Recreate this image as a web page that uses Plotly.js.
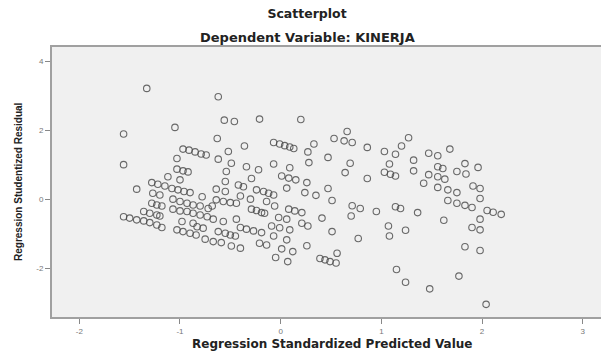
<!DOCTYPE html>
<html>
<head>
<meta charset="utf-8">
<script src="https://cdn.plot.ly/plotly-3.0.1.min.js"></script>
<style>html,body{margin:0;padding:0;background:#fff;}#chart{width:601px;height:352px;}</style>
</head>
<body>
<div id="chart"></div>
<script>
// Regression Standardized Predicted Value
var predicted = [
-1.56,-1.56,-1.33,-1.05,-1.03,-0.97,-0.91,-0.85,-0.79,-0.74,-0.62,-0.52,-0.49,-1.12,-1.03,-0.97,-0.92,-1.00,-0.54,-0.55,
-1.43,-1.28,-1.22,-1.15,-1.08,-1.02,-0.96,-0.90,-0.78,-0.64,-0.55,-0.42,-1.27,-1.20,-1.07,-1.00,-0.93,-0.87,-0.80,-0.72,
-0.64,-0.57,-0.50,-0.44,-1.28,-1.23,-1.18,-1.07,-1.00,-0.93,-0.87,-0.80,-0.73,-0.67,-1.36,-1.30,-1.23,-1.20,-0.57,-0.44,
-0.98,-0.87,-0.83,-0.77,-0.62,-0.55,-0.50,-0.45,-1.56,-1.50,-1.43,-1.36,-1.30,-1.23,-1.18,-1.03,-0.97,-0.90,-0.84,-0.75,
-0.67,-0.59,-0.49,-0.40,-0.68,
-0.62,-0.56,-0.46,-0.21,0.20,-0.63,-0.36,-0.07,-0.01,0.04,0.09,0.13,0.33,0.27,0.66,0.53,0.63,0.71,0.86,1.03,
1.14,0.47,0.69,1.08,0.28,-0.07,-0.34,-0.22,0.09,0.64,1.03,1.09,1.14,0.86,0.01,0.08,0.15,0.26,-0.29,-0.37,
0.47,0.06,0.24,0.35,0.51,0.71,0.79,0.70,-0.24,-0.17,-0.12,-0.07,-0.40,-0.30,-0.29,-0.24,-0.19,-0.16,-0.14,-0.06,
0.08,0.14,0.21,0.41,-0.02,0.06,0.21,0.27,-0.09,-0.01,0.09,0.51,-0.40,-0.34,-0.27,-0.19,-0.07,0.06,-0.21,-0.14,
0.26,0.77,0.01,0.12,0.56,-0.05,0.07,0.39,0.44,0.49,0.55,1.15,1.07,1.08,0.95,1.14,1.19,
1.27,1.20,1.68,1.47,1.56,1.32,1.83,1.96,1.56,1.61,1.32,1.75,1.84,1.47,1.56,1.63,1.42,1.56,1.66,1.75,
1.91,1.98,1.98,1.66,1.75,1.83,1.90,2.05,2.11,2.19,1.98,1.62,1.36,1.24,1.90,1.98,1.83,1.98,1.24,1.48,
1.77,2.04
];
// Regression Studentized Residual
var residual = [
1.90,1.01,3.22,2.09,1.19,1.46,1.43,1.38,1.32,1.29,1.17,1.39,1.05,0.66,0.88,0.83,0.80,0.57,0.81,0.52,
0.30,0.49,0.44,0.39,0.32,0.28,0.23,0.20,0.08,0.30,0.23,0.42,0.18,0.13,0.01,-0.06,-0.11,-0.16,-0.19,-0.26,
-0.01,-0.06,-0.09,-0.11,-0.11,-0.16,-0.19,-0.28,-0.33,-0.35,-0.40,-0.45,-0.50,-0.57,-0.35,-0.40,-0.45,-0.48,-0.64,-0.57,
-0.64,-0.69,-0.79,-0.83,-0.93,-0.98,-1.03,-1.06,-0.50,-0.54,-0.59,-0.62,-0.67,-0.74,-0.81,-0.88,-0.93,-0.98,-1.03,-1.15,
-1.22,-1.25,-1.35,-1.41,-0.19,
2.98,2.30,2.26,2.33,2.32,1.77,1.55,1.65,1.61,1.56,1.52,1.48,1.61,1.38,1.97,1.77,1.70,1.65,1.51,1.39,
1.31,1.22,1.05,1.03,1.07,1.03,0.95,0.86,0.92,0.78,0.79,0.73,0.68,0.61,0.68,0.62,0.57,0.49,0.61,0.37,
0.32,0.33,0.20,0.12,-0.03,-0.18,-0.26,-0.48,0.28,0.23,0.18,0.13,0.10,0.01,-0.28,-0.32,-0.38,-0.40,-0.06,-0.19,
-0.28,-0.33,-0.38,-0.54,-0.52,-0.57,-0.69,-0.77,-0.77,-0.82,-0.88,-0.93,-0.81,-0.86,-0.91,-0.96,-1.06,-1.17,-1.27,-1.32,
-1.34,-1.13,-1.43,-1.51,-1.56,-1.68,-1.80,-1.71,-1.75,-1.80,-1.84,-2.03,-0.77,-1.06,-0.35,-0.21,-0.26,
1.79,1.55,1.46,1.34,1.27,1.14,1.04,0.93,0.95,0.90,0.83,0.81,0.74,0.72,0.66,0.59,0.47,0.35,0.28,0.20,
0.39,0.32,0.03,-0.03,-0.11,-0.17,-0.23,-0.32,-0.37,-0.43,-0.57,-0.60,-0.38,-0.89,-0.81,-0.88,-1.37,-1.48,-2.40,-2.59,
-2.22,-3.04
];
var xTicks = [-2, -1, 0, 1, 2, 3];
var yTicks = [-2, 0, 2, 4];

var fontFam = 'Liberation Sans, Arial, sans-serif';
var wideFam = 'DejaVu Sans, Verdana, sans-serif';
var W = 549, H = 270, L = 52, T = 47;
function px(xp) { return (xp - L) / W; }
function py(yp) { return 1 - (yp - T) / H; }

var trace = {
  x: predicted, y: residual, type: 'scatter', mode: 'markers',
  marker: {symbol: 'circle-open', size: 6.5, color: 'rgba(70,70,70,0.8)', line: {width: 1.1, color: 'rgba(70,70,70,0.8)'}},
  hoverinfo: 'skip', showlegend: false
};
var layout = {
  width: 601, height: 352,
  margin: {l: L, r: 0, t: T, b: 35, pad: 0},
  paper_bgcolor: '#ffffff', plot_bgcolor: '#f0f0f0',
  font: {family: fontFam, color: '#222'},
  title: {text: '<b>Scatterplot</b>', font: {size: 12.5, family: wideFam, color: '#222'}, x: 307/601, xanchor: 'center', y: 1 - 14/352, yanchor: 'middle'},
  annotations: [
    {text: '<b>Dependent Variable: KINERJA</b>', xref: 'paper', yref: 'paper',
     x: px(307), y: py(37), xanchor: 'center', yanchor: 'middle',
     showarrow: false, font: {size: 13, family: wideFam, color: '#222'}},
    {text: '<b>Regression Standardized Predicted Value</b>', xref: 'paper', yref: 'paper',
     x: px(332), y: py(344), xanchor: 'center', yanchor: 'middle',
     showarrow: false, font: {size: 12, family: wideFam, color: '#222'}},
    {text: '<b>Regression Studentized Residual</b>', xref: 'paper', yref: 'paper',
     x: px(18), y: py(182), xanchor: 'center', yanchor: 'middle', textangle: -90,
     showarrow: false, font: {size: 10, family: fontFam, color: '#222'}}
  ],
  xaxis: {
    range: [-2.271, 3.181], tickvals: xTicks, ticktext: xTicks.map(String),
    ticks: 'outside', ticklen: 5, tickwidth: 1, tickcolor: '#888',
    tickfont: {size: 8, color: '#777', family: fontFam},
    showgrid: false, zeroline: false, showline: true, linecolor: '#a0a0a0', linewidth: 2, mirror: true
  },
  yaxis: {
    range: [-3.406, 4.42], tickvals: yTicks, ticktext: yTicks.map(String),
    ticks: 'outside', ticklen: 5, tickwidth: 1, tickcolor: '#888',
    tickfont: {size: 8, color: '#777', family: fontFam},
    showgrid: false, zeroline: false, showline: true, linecolor: '#a0a0a0', linewidth: 2, mirror: false
  }
};
Plotly.newPlot('chart', [trace], layout, {displayModeBar: false, staticPlot: true});
</script>
</body>
</html>
